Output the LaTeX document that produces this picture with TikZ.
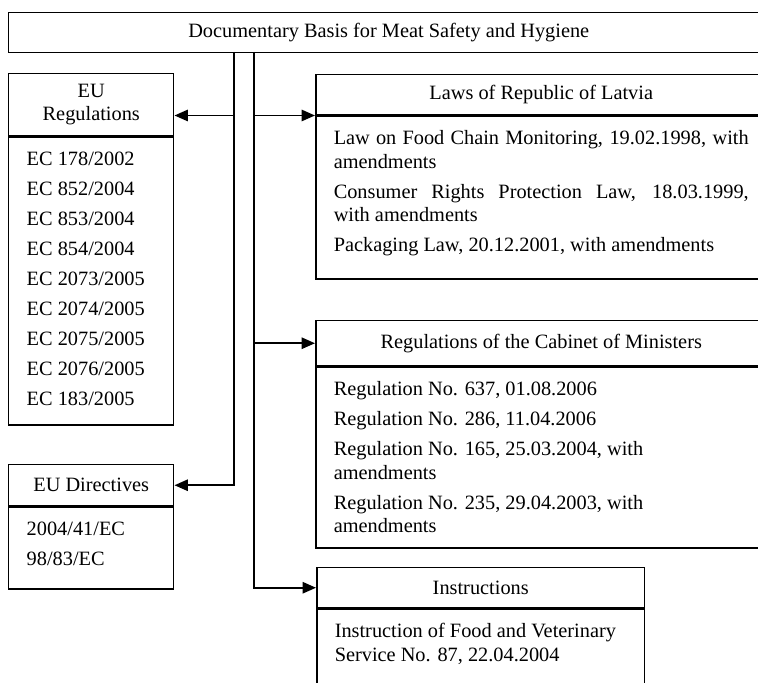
\documentclass[tikz,border=0pt]{standalone}
\usepackage{fontspec}
\setmainfont{Liberation Serif}
\usepackage{tikz}
\usetikzlibrary{calc, positioning, arrows.meta}
\tikzstyle{hdr}=[draw, line width=0.9pt, anchor=north west, align=center, inner sep=0pt]
\tikzstyle{lst}=[draw, line width=0.9pt, anchor=north west, inner xsep=10.8pt, inner ysep=8.6pt]
\tikzstyle{link}=[line width=1pt]
\tikzset{>={Triangle[length=8pt,width=6.8pt]}}
\newcommand{\listtext}[3]{\parbox[t][#1][t]{#2}{#3}}

\begin{document}
\begin{tikzpicture}[x=0.6pt, y=-0.6pt, font=\fontsize{12.2}{14}\selectfont]
\useasboundingbox (0,0) rectangle (758,683);
\clip (0,0) rectangle (758,683);
% the top box
\node[hdr, minimum width=456pt, minimum height=24pt] (basis) at (8,12) {Documentary Basis for Meat Safety and Hygiene};
% the two trunks
\coordinate (trunkL) at (234,52);
\coordinate (trunkR) at (254,52);
% the left boxes
\node[hdr, minimum width=99pt, minimum height=37.2pt] (euregT) at (8,73) {EU\\Regulations};
\node[lst] (euregL) at (euregT.south west) {\listtext{155.6pt}{77.4pt}{EC 178/2002\\[4pt]EC 852/2004\\[4pt]EC 853/2004\\[4pt]EC 854/2004\\[4pt]EC 2073/2005\\[4pt]EC 2074/2005\\[4pt]EC 2075/2005\\[4pt]EC 2076/2005\\[4pt]EC 183/2005}};
\node[hdr, minimum width=99pt, minimum height=24.6pt] (eudirT) at (8,464) {EU Directives};
\node[lst] (eudirL) at (eudirT.south west) {\listtext{32pt}{77.4pt}{2004/41/EC\\[4pt]98/83/EC}};
% the right boxes
\node[hdr, minimum width=270.6pt, minimum height=24pt] (lawsT) at (315,74) {Laws of Republic of Latvia};
\node[lst] (lawsL) at (lawsT.south west) {\listtext{80.6pt}{249pt}{Law on Food Chain Monitoring, 19.02.1998, with\linebreak amendments\\[4pt]Consumer Rights Protection Law, 18.03.1999,\linebreak with amendments\\[4pt]Packaging Law, 20.12.2001, with amendments}};
\node[hdr, minimum width=270.6pt, minimum height=27pt] (regsT) at (315,320) {Regulations of the Cabinet of Ministers};
\node[lst] (regsL) at (regsT.south west) {\listtext{91.4pt}{249pt}{Regulation No. 637, 01.08.2006\\[4pt]Regulation No. 286, 11.04.2006\\[4pt]Regulation No. 165, 25.03.2004, with\\amendments\\[4pt]Regulation No. 235, 29.04.2003, with\\amendments}};
\node[hdr, minimum width=196.8pt, minimum height=24pt] (instrT) at (316,567) {Instructions};
\node[lst] (instrL) at (instrT.south west) {\listtext{44pt}{175.2pt}{Instruction of Food and Veterinary\\Service No. 87, 22.04.2004}};
% the arrows
\draw[link, ->] (trunkL) |- (eudirT.east);
\draw[link, ->] (trunkR) |- (instrT.west);
\draw[link, ->] (lawsT.south west -| trunkL) -- (lawsT.south west -| euregT.east);
\draw[link, ->] (lawsT.south west -| trunkR) -- (lawsT.south west);
\draw[link, ->] (regsT.west -| trunkR) -- (regsT.west);
\end{tikzpicture}
\end{document}
